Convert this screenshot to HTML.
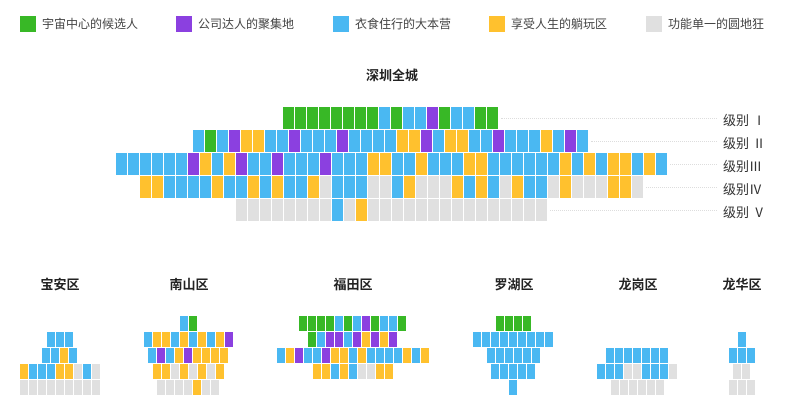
<!DOCTYPE html>
<html><head><meta charset="utf-8"><style>
body{margin:0;width:785px;height:417px;background:#fff;position:relative;overflow:hidden;font-family:"Liberation Sans","Noto Sans CJK SC",sans-serif}
.c{position:absolute}
.t{position:absolute;white-space:nowrap}
.lg{position:absolute;top:16px;width:16px;height:16px}
.lt{position:absolute;top:15px;font-size:12px;color:#444;line-height:18px}
.h{position:absolute;font-size:13px;font-weight:bold;color:#222;transform:translateX(-50%)}
.lab{position:absolute;left:723px;font-size:13px;color:#333}
.dl{position:absolute;height:0;border-top:1px dotted #ddd}
</style></head><body>
<div class="lg" style="left:20px;background:#38b826"></div><div class="lt" style="left:42px">宇宙中心的候选人</div>
<div class="lg" style="left:176px;background:#8b40e0"></div><div class="lt" style="left:198px">公司达人的聚集地</div>
<div class="lg" style="left:333px;background:#4ab8f2"></div><div class="lt" style="left:355px">衣食住行的大本营</div>
<div class="lg" style="left:489px;background:#ffc12e"></div><div class="lt" style="left:511px">享受人生的躺玩区</div>
<div class="lg" style="left:646px;background:#e0e0e0"></div><div class="lt" style="left:668px">功能单一的圆地狂</div>
<div class="h" style="left:392px;top:65px">深圳全城</div>
<div class="h" style="left:60px;top:274px">宝安区</div>
<div class="h" style="left:189px;top:274px">南山区</div>
<div class="h" style="left:353px;top:274px">福田区</div>
<div class="h" style="left:514px;top:274px">罗湖区</div>
<div class="h" style="left:638px;top:274px">龙岗区</div>
<div class="h" style="left:742px;top:274px">龙华区</div>
<div class="lab" style="top:110px">级别 Ⅰ</div>
<div class="lab" style="top:133px">级别 Ⅱ</div>
<div class="lab" style="top:156px">级别Ⅲ</div>
<div class="lab" style="top:179px">级别Ⅳ</div>
<div class="lab" style="top:202px">级别 Ⅴ</div>
<div id="g"></div>
<script>
var C={G:"#38b826",P:"#8b40e0",B:"#4ab8f2",Y:"#ffc12e",X:"#e0e0e0"};
var g=document.getElementById("g"),h="";
function cell(x,y,w,hh,c){h+='<div class="c" style="left:'+x+'px;top:'+y+'px;width:'+w+'px;height:'+hh+'px;background:'+C[c]+'"></div>';}
var main=[[283.3,"GGGGGGGGBGBBPGBBGG"],[193.3,"BGBPYYBBPBBBPBBBBYYPBYYBBPBBBYBPB"],
[115.7,"BBBBBBPYBYPBBPBBBPBBBYYBBYBBBYYBBBBBBYBYBYYBYB"],
[139.7,"YYBBBBYBBYBYBBYXBBBXXBYXXXYBYBXYBBXYXXXYYX"],
[235.7,"XXXXXXXXBXYXXXXXXXXXXXXXXX"]];
main.forEach(function(r,i){var y=107+i*23,s=r[1];for(var k=0;k<s.length;k++)cell(Math.round(r[0]+k*12),y,11,22,s[k]);
var e=Math.round(r[0]+s.length*12)+2;h+='<div class="dl" style="left:'+e+'px;width:'+(717-e)+'px;top:'+(y+11)+'px"></div>';});
var small=[
[[1,46.7,"BBB"],[2,41.7,"BBYB"],[3,19.7,"YBBBYYXBX"],[4,19.7,"XXXXXXXXX"]],
[[0,179.7,"BG"],[1,143.7,"BYYBYBYBYP"],[2,147.7,"BPBYPYYYY"],[3,152.7,"YYXYXYXY"],[4,156.7,"XXXXYXX"]],
[[0,298.7,"GGGGBGBPGBBG"],[1,307.7,"GBPPBPYPYP"],[2,276.7,"BYPBBPYYBYBBBBYBY"],[3,312.7,"YYBYBXXYY"]],
[[0,495.7,"GGGG"],[1,472.7,"BBBBBBBBB"],[2,486.7,"BBBBBB"],[3,490.7,"BBBBB"],[4,508.7,"B"]],
[[2,605.7,"BBBBBBB"],[3,596.7,"BBBXXBBBX"],[4,610.7,"XXXXXX"]],
[[1,737.7,"B"],[2,728.7,"BBB"],[3,732.7,"XX"],[4,728.7,"XXX"]]];
small.forEach(function(d){d.forEach(function(r){var y=316+r[0]*16;for(var k=0;k<r[2].length;k++)cell(Math.round(r[1]+k*9),y,8,15,r[2][k]);});});
g.innerHTML=h;
</script>
</body></html>
